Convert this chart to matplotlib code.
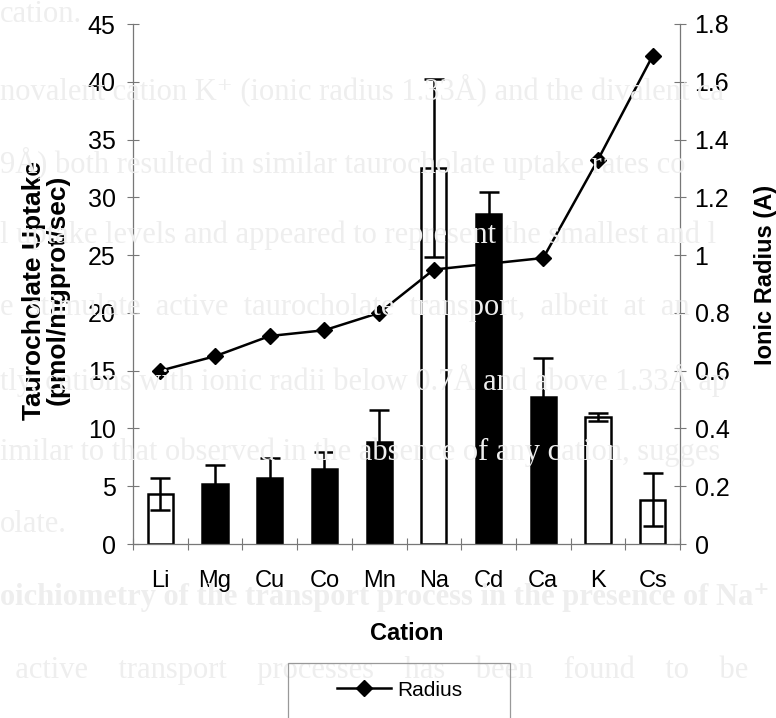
import matplotlib
matplotlib.use("Agg")
import matplotlib.pyplot as plt
from matplotlib.patches import Rectangle
from matplotlib.ticker import FuncFormatter, FixedLocator

plt.rcParams['font.family'] = ['Liberation Sans', 'DejaVu Sans']

# data
cations = ["Li", "Mg", "Cu", "Co", "Mn", "Na", "Cd", "Ca", "K", "Cs"]
uptake = [4.3, 5.2, 5.75, 6.5, 8.8, 32.5, 28.6, 12.7, 11.0, 3.85]
uptake_err = [1.4, 1.6, 1.7, 1.5, 2.8, 7.7, 1.9, 3.4, 0.35, 2.3]
monovalent = [True, False, False, False, False, True, False, False, True, True]
radius = [0.60, 0.65, 0.72, 0.74, 0.80, 0.95, 0.97, 0.99, 1.33, 1.69]

# faint bleed-through of the printed page behind the chart
page_lines = [
    (15, "cation.", "normal"),
    (90, "novalent cation K\u207a (ionic radius 1.33\u00c5) and the divalent ca", "normal"),
    (163, "9\u00c5) both resulted in similar taurocholate uptake rates co", "normal"),
    (235, "l uptake levels and appeared to represent the smallest and l", "normal"),
    (307, "e  stimulate  active  taurocholate  transport,  albeit  at  an", "normal"),
    (380, "tly, cations with ionic radii below 0.7\u00c5 and above 1.33\u00c5 ap", "normal"),
    (452, "imilar to that observed in the absence of any cation, sugges", "normal"),
    (525, "olate.", "normal"),
    (598, "oichiometry of the transport process in the presence of Na\u207a", "bold"),
    (670, "  active    transport    processes    has    been    found    to    be", "normal"),
]

W, H = 776, 718
fig = plt.figure(figsize=(W / 100, H / 100), dpi=100)

for ypx, txt, wt in page_lines:
    fig.text(0.0, 1 - ypx / H, txt, fontsize=22, color="#eeeeee",
             family=["Liberation Serif", "DejaVu Serif"], weight=wt,
             va="center", ha="left", zorder=0)

ax = fig.add_axes([133 / W, 1 - 544 / H, (680 - 133) / W, (544 - 24) / H])
ax.set_facecolor("none")

x = list(range(len(cations)))
colors = ["white" if m else "black" for m in monovalent]
ax.bar(x, uptake, width=0.46, color=colors, edgecolor="black", linewidth=1.8, zorder=2)
ax.errorbar(x, uptake, yerr=uptake_err, fmt="none", ecolor="black",
            elinewidth=1.8, capsize=7, capthick=1.8, zorder=3)

ax.set_xlim(-0.5, len(cations) - 0.5)
ax.set_ylim(0, 45)
ax.set_yticks(range(0, 46, 5))

ax.xaxis.set_major_locator(FixedLocator([i - 0.5 for i in range(len(cations) + 1)]))
ax.xaxis.set_minor_locator(FixedLocator(x))
ax.set_xticklabels([], minor=False)
ax.set_xticklabels(cations, minor=True)
ax.tick_params(axis="x", which="major", direction="inout", length=9, width=0.8, color="#777777")
ax.tick_params(axis="x", which="minor", length=0, pad=19, labelsize=17)
ax.tick_params(axis="y", direction="inout", length=9, width=0.8, color="#777777",
               labelsize=18, pad=8)

for s in ["top", "right"]:
    ax.spines[s].set_visible(False)
for s in ["left", "bottom"]:
    ax.spines[s].set_color("#777777")
    ax.spines[s].set_linewidth(0.9)

ax.set_ylabel("Taurocholate Uptake\n(pmol/mgprot/sec)", fontsize=19, weight="bold",
              linespacing=1.0)
ax.yaxis.set_label_coords(-0.115, 0.488)
ax.set_xlabel("Cation", fontsize=17, weight="bold")
ax.xaxis.set_label_coords(0.5, -0.15)

ax2 = ax.twinx()
ax2.set_ylim(0, 1.8)
ax2.set_yticks([i * 0.2 for i in range(10)])
ax2.yaxis.set_major_formatter(FuncFormatter(lambda v, p: "%g" % round(v, 1)))
line, = ax2.plot(x, radius, color="black", linewidth=1.8, marker="D",
                 markersize=8.5, zorder=4, label="Radius")
ax2.tick_params(axis="y", direction="inout", length=9, width=0.8, color="#777777",
                labelsize=18, pad=6)
for s in ["top", "left", "bottom"]:
    ax2.spines[s].set_visible(False)
ax2.spines["right"].set_color("#777777")
ax2.spines["right"].set_linewidth(0.9)
ax2.set_ylabel("Ionic Radius (A)", fontsize=17, weight="bold")
ax2.yaxis.set_label_coords(1.136, 0.517)

# legend box, cut off by the bottom of the scan
fig.patches.append(Rectangle((288 / W, 1 - 760 / H), (510 - 288) / W, (760 - 663) / H,
                             transform=fig.transFigure, facecolor="none",
                             edgecolor="#999999", linewidth=0.9, zorder=1))
fig.legend(handles=[line], loc="center left", bbox_to_anchor=(337 / W, 1 - 690 / H),
           frameon=False, fontsize=15, handlelength=2.6, handletextpad=0.3,
           borderpad=0, borderaxespad=0)

fig.savefig("out.png", dpi=100)
